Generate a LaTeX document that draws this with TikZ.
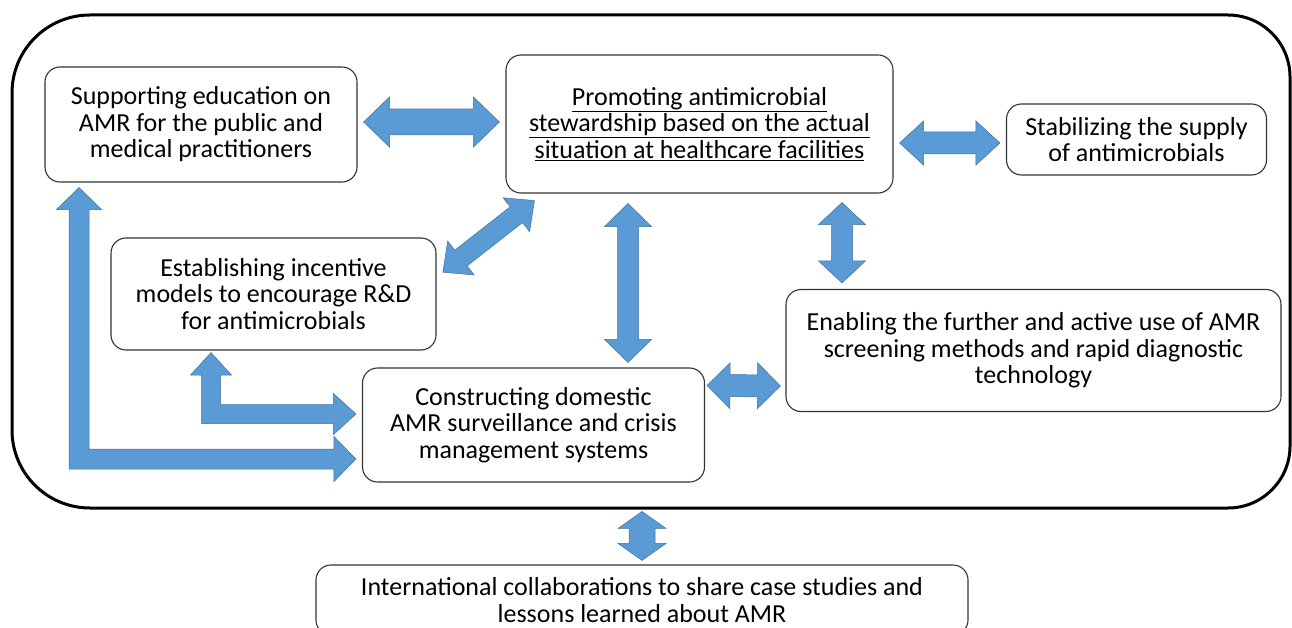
\documentclass[tikz,border=0pt]{standalone}
\usepackage{fontspec}
\setmainfont{Carlito}
\usetikzlibrary{calc}

\definecolor{arrowblue}{RGB}{91,155,213}
\definecolor{arrowedge}{RGB}{65,113,156}

\tikzset{
  box/.style={draw=black!80, line width=1.1pt, rounded corners=15pt, align=center,
    font=\fontsize{26}{26.5}\selectfont, inner sep=0pt},
  blockarrow/.style={fill=arrowblue, draw=arrowedge, line width=0.5pt},
  frame/.style={draw=black, line width=3pt},
}

% double block arrow: tip, tip, shaft half width, head half width, head length
\newcommand\dblarrow[5]{%
  \path let \p1=#1, \p2=#2, \n1={veclen(\x2-\x1,\y2-\y1)}, \n2={atan2(\y2-\y1,\x2-\x1)} in
    [blockarrow, shift={(\p1)}, rotate=\n2]
    (0pt,0pt) -- (#5,#4) -- (#5,#3) -- (\n1-#5,#3) -- (\n1-#5,#4) -- (\n1,0pt)
    -- (\n1-#5,-#4) -- (\n1-#5,-#3) -- (#5,-#3) -- (#5,-#4) -- cycle;
}
% bent block arrow: up tip, right tip, shaft half width, head half width, head length
\newcommand\elbowarrow[5]{%
  \path[blockarrow] let \p1=#1, \p2=#2 in
    (\x1,\y1) -- (\x1+#4,\y1-#5) -- (\x1+#3,\y1-#5) -- (\x1+#3,\y2+#3) -- (\x2-#5,\y2+#3)
    -- (\x2-#5,\y2+#4) -- (\x2,\y2) -- (\x2-#5,\y2-#4) -- (\x2-#5,\y2-#3) -- (\x1-#3,\y2-#3)
    -- (\x1-#3,\y1-#5) -- (\x1-#4,\y1-#5) -- cycle;
}

\begin{document}
\begin{tikzpicture}[x=1pt, y=-1pt]
\useasboundingbox (0,0) rectangle (1292,628);
\clip (0,0) rectangle (1292,628);

\draw[frame] (600,15) [rounded corners=62pt] -- (1290,15) -- (1290,508)
  [rounded corners=78pt] -- (12,508) -- (12,15) -- cycle;

\node[box, minimum width=312pt, minimum height=115pt] (edu) at (201,124.5)
  {Supporting education on\\AMR for the public and\\medical practitioners};
\node[box, minimum width=387pt, minimum height=138pt] (stew) at (699.5,124)
  {\underline{Promoting antimicrobial}\\\underline{stewardship based on the actual}\\\underline{situation at healthcare facilities}};
\node[box, minimum width=260pt, minimum height=71pt] (sup) at (1136.5,139.5)
  {Stabilizing the supply\\of antimicrobials};
\node[box, minimum width=325pt, minimum height=112pt] (incent) at (273.5,294)
  {Establishing incentive\\models to encourage R\&D\\for antimicrobials};
\node[box, minimum width=495pt, minimum height=122pt] (enab) at (1033.5,350.5)
  {Enabling the further and active use of AMR\\screening methods and rapid diagnostic\\technology};
\node[box, minimum width=342pt, minimum height=114pt] (constr) at (533.5,425)
  {Constructing domestic\\AMR surveillance and crisis\\management systems};
\node[box, minimum width=652pt, minimum height=70pt] (intl) at (642,600)
  {International collaborations to share case studies and\\lessons learned about AMR};

\dblarrow{($(edu.east)+(6,-2.5)$)}{($(stew.west)+(-6,-2)$)}{13pt}{25pt}{26pt}
\dblarrow{($(stew.east)+(6,19)$)}{($(sup.west)+(-6,3.5)$)}{11pt}{22pt}{24pt}
\dblarrow{($(stew.south west)+(29,7)$)}{($(incent.north east)+(6,35)$)}{10pt}{21.5pt}{23pt}
\dblarrow{($(stew.south)+(-71.5,10)$)}{($(constr.north)+(94.5,-5)$)}{10.5pt}{23.5pt}{23pt}
\dblarrow{($(stew.south)+(142.5,9)$)}{($(enab.north)+(-191.5,-6)$)}{10.5pt}{23.5pt}{22pt}
\dblarrow{($(constr.north east)+(2,18)$)}{($(enab.west)+(-5,35.5)$)}{11pt}{23pt}{23pt}
\dblarrow{($(intl.north)+(0,-53)$)}{($(intl.north)+(0,-4)$)}{13pt}{24pt}{17pt}

\elbowarrow{($(incent.south)+(-62.5,2)$)}{($(constr.west)+(-6,-11)$)}{9.5pt}{20.5pt}{22.5pt}
\elbowarrow{($(edu.south)+(-122,5)$)}{($(constr.west)+(-6,34)$)}{10pt}{22.5pt}{22pt}
\end{tikzpicture}
\end{document}
